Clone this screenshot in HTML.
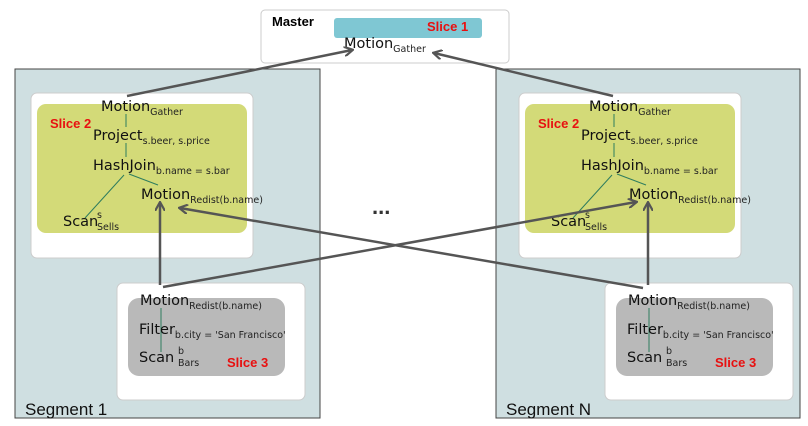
<!DOCTYPE html>
<html><head><meta charset="utf-8"><style>
body{margin:0;background:#fff}
svg{display:block;font-family:"DejaVu Sans","Liberation Sans",sans-serif}
.t{font-size:14.5px;fill:#111}
.s{font-size:9.5px;fill:#222}
.r{font-family:"Liberation Sans",sans-serif;font-weight:bold;fill:#e81010;font-size:13px}
</style></head><body>
<svg width="808" height="426" viewBox="0 0 808 426">
<defs>
<marker id="a" markerWidth="10" markerHeight="10" refX="8" refY="5" orient="auto" markerUnits="userSpaceOnUse">
<path d="M0,0 L9,5 L0,10" fill="none" stroke="#555" stroke-width="2.2"/>
</marker>
<g id="seg">
<rect x="31" y="93" width="222" height="165" rx="6" fill="#fff" stroke="#ccc"/>
<rect x="37" y="104" width="210" height="129" rx="9" fill="#d3da78"/>
<rect x="117" y="283" width="188" height="117" rx="6" fill="#fff" stroke="#ccc"/>
<rect x="128" y="298" width="157" height="78" rx="11" fill="#b9b9b9"/>
<g stroke="#2e7d5e" stroke-width="1">
<line x1="126" y1="114" x2="126" y2="127"/>
<line x1="126" y1="143" x2="126" y2="157"/>
<line x1="124" y1="175" x2="85" y2="218"/>
<line x1="129" y1="174" x2="158" y2="185"/>
<line x1="161" y1="308" x2="161" y2="352"/>
</g>
<text x="101" y="111" class="t">Motion<tspan class="s" dy="4">Gather</tspan></text>
<text x="50" y="128" class="r">Slice 2</text>
<text x="93" y="140" class="t">Project<tspan class="s" dy="4">s.beer, s.price</tspan></text>
<text x="93" y="170" class="t">HashJoin<tspan class="s" dy="4">b.name = s.bar</tspan></text>
<text x="141" y="199" class="t">Motion<tspan class="s" dy="4">Redist(b.name)</tspan></text>
<text x="63" y="226" class="t">Scan</text><text x="97" y="218" class="s">s</text><text x="97" y="230" class="s">Sells</text>
<text x="140" y="305" class="t">Motion<tspan class="s" dy="4">Redist(b.name)</tspan></text>
<text x="139" y="334" class="t">Filter<tspan class="s" dy="4">b.city = 'San Francisco'</tspan></text>
<text x="139" y="362" class="t">Scan</text><text x="178" y="354" class="s">b</text><text x="178" y="366" class="s">Bars</text>
<text x="227" y="367" class="r">Slice 3</text>
</g>
</defs>
<rect x="261" y="10" width="248" height="53" rx="4" fill="#fff" stroke="#ccc"/>
<rect x="334" y="18" width="148" height="20" rx="3" fill="#7fc7d3"/>
<text x="272" y="26" font-family="Liberation Sans,sans-serif" font-weight="bold" font-size="13" fill="#000">Master</text>
<text x="427" y="31" class="r">Slice 1</text>
<text x="344" y="48" class="t">Motion<tspan class="s" dy="4">Gather</tspan></text>

<rect x="15" y="69" width="305" height="349" fill="#cfdfe1" stroke="#444"/>
<rect x="496" y="69" width="304" height="349" fill="#cfdfe1" stroke="#444"/>
<text x="25" y="415" font-family="Liberation Sans,sans-serif" font-size="17" fill="#111">Segment 1</text>
<text x="506" y="415" font-family="Liberation Sans,sans-serif" font-size="17" fill="#111">Segment N</text>
<use href="#seg"/>
<use href="#seg" transform="translate(488,0)"/>
<text x="372" y="214" font-family="Liberation Sans,sans-serif" font-weight="bold" font-size="22" fill="#333">...</text>

<g stroke="#555" stroke-width="2.5" fill="none" marker-end="url(#a)">
<line x1="127" y1="96" x2="352" y2="50"/>
<line x1="613" y1="96" x2="434" y2="53"/>
<line x1="160" y1="285" x2="160" y2="203"/>
<line x1="648" y1="285" x2="648" y2="203"/>
<line x1="163" y1="287" x2="636" y2="202"/>
<line x1="643" y1="288" x2="180" y2="208"/>
</g>
</svg>
</body></html>
